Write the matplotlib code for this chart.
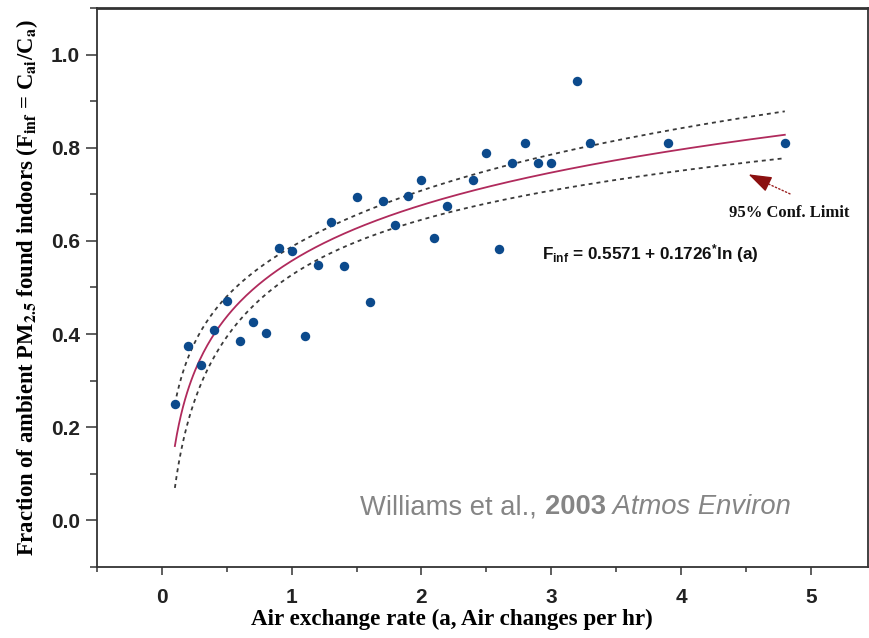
import numpy as np
import matplotlib
matplotlib.use("Agg")
import matplotlib.pyplot as plt

# ---------------- data ----------------
air_exchange = [0.1, 0.2, 0.3, 0.4, 0.5, 0.6, 0.7, 0.8, 0.9, 1.0,
                1.1, 1.2, 1.3, 1.4, 1.5, 1.6, 1.7, 1.8, 1.9, 2.0,
                2.1, 2.2, 2.4, 2.5, 2.6, 2.7, 2.8, 2.9, 3.0, 3.2,
                3.3, 3.9, 4.8]
f_inf = [0.250, 0.375, 0.334, 0.408, 0.470, 0.386, 0.425, 0.403, 0.584, 0.578,
         0.396, 0.549, 0.640, 0.546, 0.695, 0.469, 0.686, 0.634, 0.697, 0.731,
         0.607, 0.676, 0.731, 0.789, 0.583, 0.768, 0.810, 0.768, 0.768, 0.943,
         0.810, 0.810, 0.810]
fit_intercept = 0.5571
fit_slope = 0.1726
fit_range = (0.1, 4.8)
t_crit = 2.04  # 95% two-sided, df = n-2

x_ticks = [0, 1, 2, 3, 4, 5]
y_ticks = [0.0, 0.2, 0.4, 0.6, 0.8, 1.0]

# ---------------- style ----------------
plt.rcParams['mathtext.fontset'] = 'custom'
plt.rcParams['mathtext.rm'] = 'Liberation Sans:bold'
plt.rcParams['mathtext.it'] = 'Liberation Sans:bold'
plt.rcParams['mathtext.bf'] = 'Liberation Sans:bold'

W, H = 870, 638
fig = plt.figure(figsize=(W / 100, H / 100), dpi=100)
ax = fig.add_axes([97 / W, (H - 567) / H, (868 - 97) / W, (567 - 8) / H])

x = np.array(air_exchange)
y = np.array(f_inf)

# regression curve and 95% confidence limits (from the data)
lx = np.log(x)
n = len(x)
resid = y - (fit_intercept + fit_slope * lx)
s = np.sqrt(np.sum(resid ** 2) / (n - 2))
sxx = np.sum((lx - lx.mean()) ** 2)
xc = np.linspace(fit_range[0], fit_range[1], 300)
yc = fit_intercept + fit_slope * np.log(xc)
hw = t_crit * s * np.sqrt(1 / n + (np.log(xc) - lx.mean()) ** 2 / sxx)

ax.plot(xc, yc + hw, color='#3a3a3a', lw=1.3, ls=(0, (2.2, 2.2)), zorder=2)
ax.plot(xc, yc - hw, color='#3a3a3a', lw=1.3, ls=(0, (2.2, 2.2)), zorder=2)
ax.plot(xc, yc, color='#b02a5c', lw=1.3, zorder=3)
ax.plot(x, y, 'o', color='#0c4a8c', ms=6.8, mec='none', zorder=4)

ax.set_xlim(-0.476, 5.441)
ax.set_ylim(-0.0897, 1.0925)
ax.set_xticks(x_ticks)
ax.set_yticks(y_ticks)
ax.set_xticks(np.arange(-0.5, 5.5, 0.5), minor=True)
ax.set_yticks(np.arange(-0.1, 1.1, 0.1), minor=True)
ax.set_yticklabels([f"{v:.1f}" for v in y_ticks])
ax.set_xticklabels([str(v) for v in x_ticks])
ax.tick_params(axis='both', which='both', direction='out', width=1.1,
               color='#333333', labelsize=15, labelcolor='#222222')
ax.tick_params(axis='y', which='major', length=7.7, pad=4.5)
ax.tick_params(axis='y', which='minor', length=4.8)
ax.tick_params(axis='x', which='major', length=5.8, pad=9)
ax.tick_params(axis='x', which='minor', length=3.6)
for lab in ax.get_xticklabels() + ax.get_yticklabels():
    lab.set_fontfamily('Liberation Sans')
    lab.set_fontweight('bold')
for sp in ax.spines.values():
    sp.set_color('#333333')
    sp.set_linewidth(1.3)
ax.spines['top'].set_linewidth(2.0)

ax.set_xlabel('Air exchange rate (a, Air changes per hr)', family='Liberation Serif',
              fontweight='bold', fontsize=16.6)
ax.xaxis.set_label_coords((451.5 - 97) / (868 - 97), -0.074)
ax.set_ylabel(r'Fraction of ambient PM$_{\mathbf{2.5}}$ found indoors '
              r'(F$_{\mathbf{inf}}$ = C$_{\mathbf{ai}}$/C$_{\mathbf{a}}$)',
              family='Liberation Serif', fontweight='bold', fontsize=16.3,
              math_fontfamily='stix', labelpad=8)

# equation
ax.text(2.93, 0.573, r'F$_{\mathrm{inf}}$ = 0.5571 + 0.1726$^{*}$ln (a)',
        family='Liberation Sans', fontweight='bold', fontsize=12.3,
        color='#111111', ha='left', va='center')

# confidence limit annotation: dotted shaft + solid filled head
arrow_tip = (4.52, 0.743)
arrow_tail = (4.84, 0.701)
head_base = (4.66, 0.724)
ax.annotate('', xy=head_base, xytext=arrow_tail,
            arrowprops=dict(arrowstyle='-', color='#9b2020', lw=1.0, ls=':',
                            shrinkA=0, shrinkB=0))
ax.annotate('', xy=arrow_tip, xytext=head_base,
            arrowprops=dict(arrowstyle='-|>,head_length=1.3,head_width=0.45',
                            color='#8b1010', lw=1.0, mutation_scale=11,
                            shrinkA=0, shrinkB=0))
ax.text(4.83, 0.66, '95% Conf. Limit', family='Liberation Serif',
        fontweight='bold', fontsize=12, ha='center', va='center', color='#111111')

# citation
gray = '#858585'
t1 = ax.text(1.53, 0.0, 'Williams et al., ', family='Liberation Sans',
             fontsize=19.7, color=gray, ha='left', va='bottom')
t2 = ax.annotate('2003', xy=(1, 0), xycoords=t1, family='Liberation Sans',
                 fontsize=19.7, fontweight='bold', color=gray, ha='left', va='bottom')
t3 = ax.annotate(' Atmos Environ', xy=(1, 0), xycoords=t2, family='Liberation Sans',
                 fontsize=19.7, style='italic', color=gray, ha='left', va='bottom')

fig.savefig('out.png', dpi=100, facecolor='white')
